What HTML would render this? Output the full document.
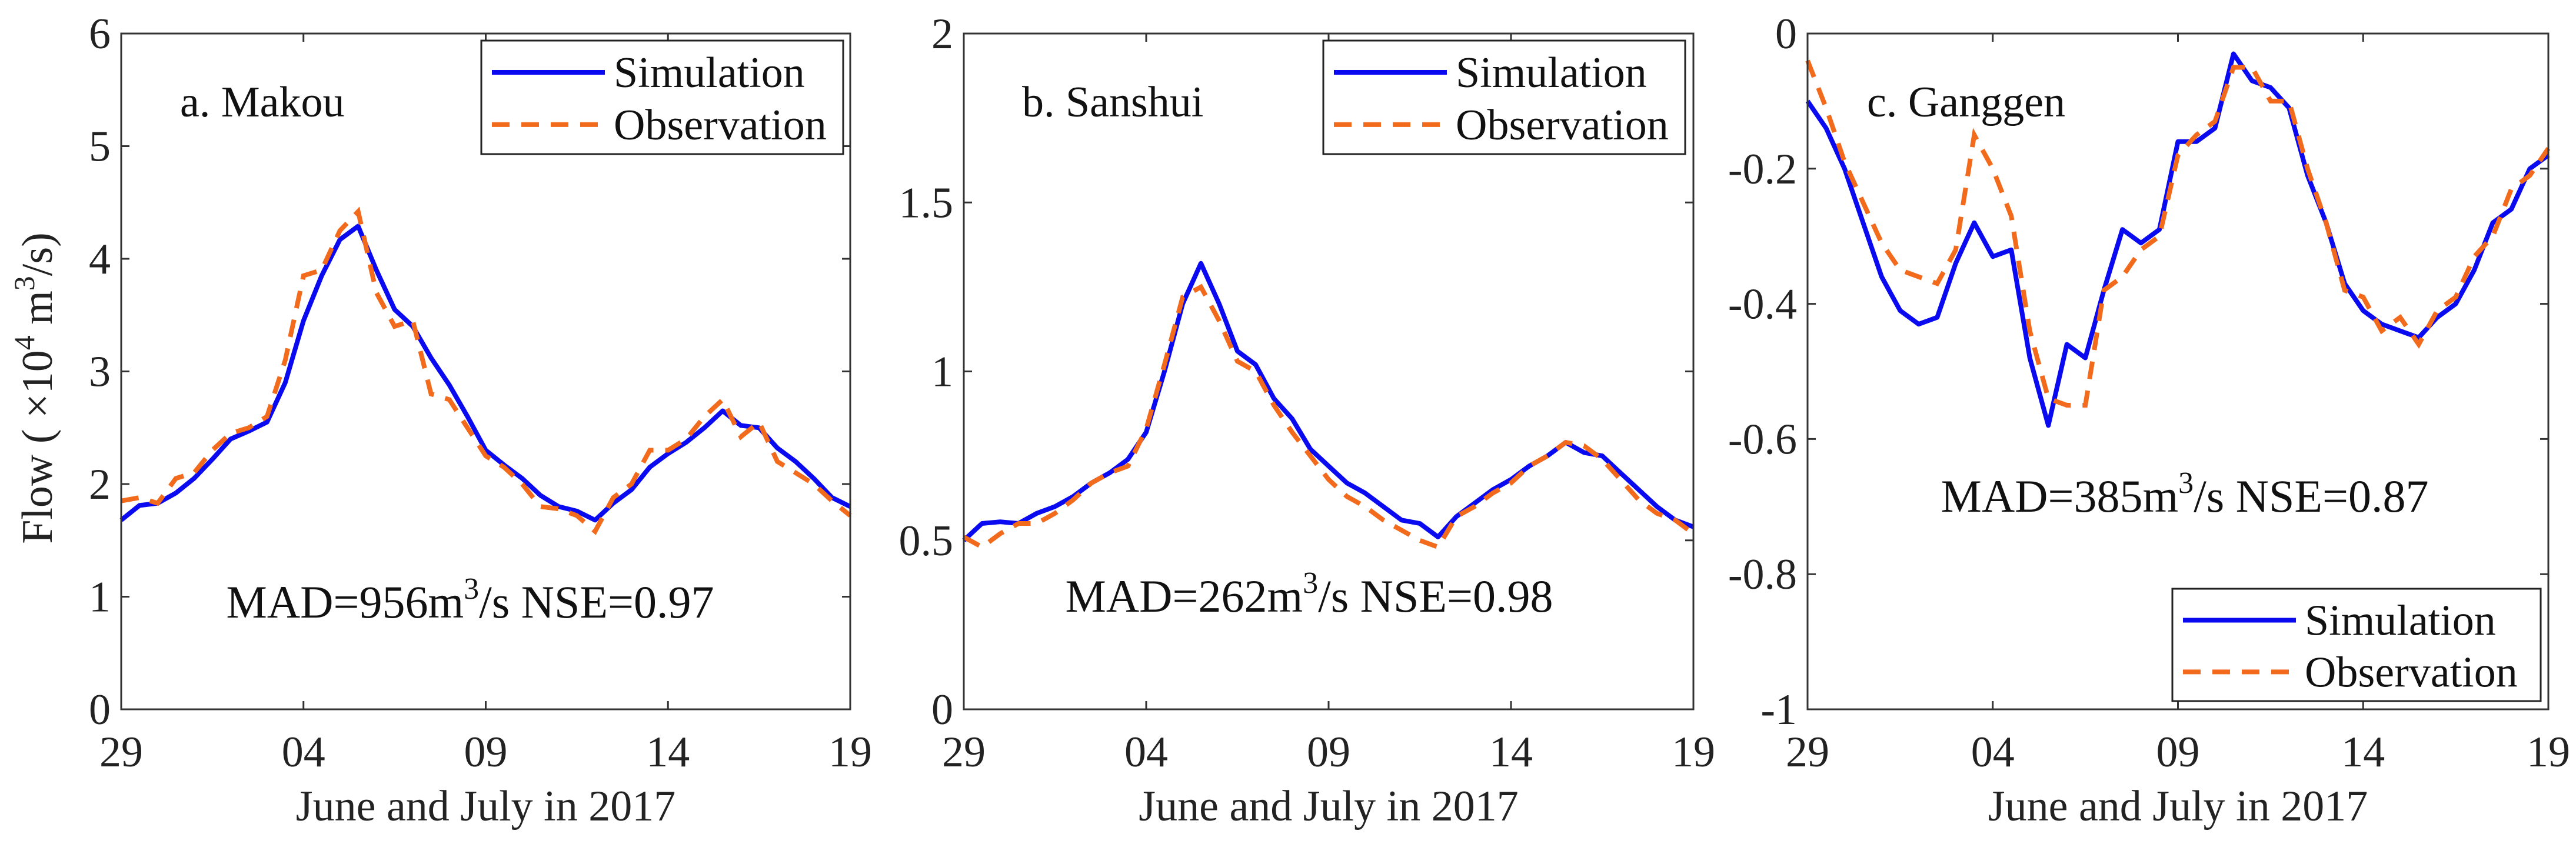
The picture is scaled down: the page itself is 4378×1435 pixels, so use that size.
<!DOCTYPE html>
<html><head><meta charset="utf-8">
<style>
html,body{margin:0;padding:0;background:#fff;}
svg{display:block;font-family:"Liberation Serif",serif;}
</style></head>
<body>
<svg id="fig" width="4378" height="1435" viewBox="0 0 4378 1435" xmlns="http://www.w3.org/2000/svg"></svg>
<script>
const days = [0,0.5,1,1.5,2,2.5,3,3.5,4,4.5,5,5.5,6,6.5,7,7.5,8,8.5,9,9.5,10,10.5,11,11.5,12,12.5,13,13.5,14,14.5,15,15.5,16,16.5,17,17.5,18,18.5,19,19.5,20];
const xTickLabels = ["29","04","09","14","19"];
const xTickValues = [0,5,10,15,20];

const simA = [1.68,1.81,1.83,1.92,2.05,2.22,2.4,2.47,2.55,2.9,3.45,3.85,4.17,4.29,3.9,3.55,3.4,3.12,2.88,2.6,2.3,2.17,2.05,1.9,1.8,1.76,1.68,1.83,1.95,2.15,2.27,2.37,2.5,2.65,2.52,2.5,2.32,2.2,2.05,1.88,1.8];
const obsA = [1.85,1.88,1.83,2.05,2.1,2.3,2.45,2.5,2.6,3.1,3.85,3.9,4.25,4.42,3.7,3.4,3.45,2.8,2.75,2.5,2.25,2.15,2.0,1.8,1.78,1.72,1.58,1.88,2.0,2.3,2.3,2.4,2.6,2.75,2.42,2.55,2.2,2.1,2.0,1.85,1.72];
const simB = [0.5,0.55,0.555,0.55,0.58,0.6,0.63,0.67,0.7,0.74,0.82,1.0,1.2,1.32,1.2,1.06,1.02,0.92,0.86,0.77,0.72,0.67,0.64,0.6,0.56,0.55,0.51,0.57,0.61,0.65,0.68,0.72,0.75,0.79,0.76,0.75,0.7,0.65,0.6,0.56,0.54];
const obsB = [0.51,0.48,0.52,0.55,0.55,0.58,0.62,0.67,0.7,0.72,0.83,1.02,1.22,1.25,1.15,1.03,1.0,0.9,0.82,0.75,0.68,0.63,0.6,0.56,0.53,0.5,0.48,0.57,0.6,0.64,0.67,0.72,0.75,0.79,0.78,0.74,0.68,0.62,0.58,0.56,0.52];
const simC = [-0.1,-0.14,-0.2,-0.28,-0.36,-0.41,-0.43,-0.42,-0.34,-0.28,-0.33,-0.32,-0.48,-0.58,-0.46,-0.48,-0.38,-0.29,-0.31,-0.29,-0.16,-0.16,-0.14,-0.03,-0.07,-0.08,-0.11,-0.21,-0.28,-0.37,-0.41,-0.43,-0.44,-0.45,-0.42,-0.4,-0.35,-0.28,-0.26,-0.2,-0.18];
const obsC = [-0.04,-0.11,-0.19,-0.25,-0.31,-0.35,-0.36,-0.37,-0.32,-0.15,-0.2,-0.27,-0.44,-0.54,-0.55,-0.55,-0.38,-0.36,-0.32,-0.3,-0.18,-0.15,-0.13,-0.05,-0.05,-0.1,-0.1,-0.2,-0.28,-0.38,-0.39,-0.44,-0.42,-0.46,-0.41,-0.39,-0.33,-0.3,-0.23,-0.21,-0.17];

const yTicksA = [0,1,2,3,4,5,6];
const yTicksB = [0,0.5,1,1.5,2];
const yTicksC = [-1,-0.8,-0.6,-0.4,-0.2,0];

const NS="http://www.w3.org/2000/svg";
const svg=document.getElementById('fig');
function mk(tag,attrs,parent){const e=document.createElementNS(NS,tag);for(const k in attrs)e.setAttribute(k,attrs[k]);(parent||svg).appendChild(e);return e;}

const panels=[
 {id:'a',x0:206,x1:1445,ymin:0,ymax:6,ticks:yTicksA,sim:simA,obs:obsA,label:'a. Makou',lx:306,mad:'956',nse:'0.97',mx:799,my:1050,leg:[818,69,1433,262]},
 {id:'b',x0:1638,x1:2878,ymin:0,ymax:2,ticks:yTicksB,sim:simB,obs:obsB,label:'b. Sanshui',lx:1737,mad:'262',nse:'0.98',mx:2225,my:1040,leg:[2249,69,2864,262]},
 {id:'c',x0:3072,x1:4331,ymin:-1,ymax:0,ticks:yTicksC,sim:simC,obs:obsC,label:'c. Ganggen',lx:3173,mad:'385',nse:'0.87',mx:3713,my:870,leg:[3692,1001,4318,1192]}
];
const Y0=1206,Y1=57,FS=74;

panels.forEach(p=>{
  const g=mk('g',{});
  
  
  const xs=d=>p.x0+(d/20)*(p.x1-p.x0);
  const ys=v=>Y0-(v-p.ymin)/(p.ymax-p.ymin)*(Y0-Y1);
  p.ticks.forEach(t=>{
    const y=ys(t);
    const tk=mk('path',{d:`M${p.x0},${y}h14M${p.x1},${y}h-14`,stroke:'#333','stroke-width':3},g);
    
    
    const lb=mk('text',{x:p.x0-18,y:y+25,'text-anchor':'end','font-size':FS,fill:'#222'},g);
    lb.textContent=String(t);
    
    
  });
  xTickValues.forEach((t,i)=>{
    const x=xs(t);
    const tk=mk('path',{d:`M${x},${Y0}v-14M${x},${Y1}v14`,stroke:'#333','stroke-width':3},g);
    
    
    const lb=mk('text',{x:x,y:1303,'text-anchor':'middle','font-size':FS,fill:'#222'},g);
    lb.textContent=xTickLabels[i];
    
    
  });
  const xt=mk('text',{x:(p.x0+p.x1)/2,y:1395,'text-anchor':'middle','font-size':FS,fill:'#222'},g);
  xt.textContent='June and July in 2017';
  
  
  const line=(arr)=>arr.map((v,i)=>(i?'L':'M')+xs(days[i]).toFixed(1)+','+ys(v).toFixed(1)).join('');
  const sim=mk('path',{d:line(p.sim),fill:'none',stroke:'#0a0af0','stroke-width':8,'stroke-linejoin':'round'},g);
  
  
  const obs=mk('path',{d:line(p.obs),fill:'none',stroke:'#f26a1b','stroke-width':8,'stroke-dasharray':'30 20'},g);
  
  
  const bx=mk('rect',{x:p.x0,y:Y1,width:p.x1-p.x0,height:Y0-Y1,fill:'none',stroke:'#333','stroke-width':3},g);
  
  
  const lt=mk('text',{x:p.lx,y:198,'font-size':FS,fill:'#111'},g);
  lt.textContent=p.label;
  
  
  const mt=mk('text',{x:p.mx,y:p.my,'text-anchor':'middle','font-size':78,fill:'#111'},g);
  mt.innerHTML='MAD='+p.mad+'m<tspan dy="-32" font-size="52">3</tspan><tspan dy="32">/s NSE='+p.nse+'</tspan>';
  
  
  const [lx0,ly0,lx1,ly1]=p.leg;
  const lg=mk('g',{},g);
  
  
  mk('rect',{x:lx0,y:ly0,width:lx1-lx0,height:ly1-ly0,fill:'#fff',stroke:'#222','stroke-width':3},lg);
  const r1=ly0+(ly1-ly0)*0.28, r2=ly0+(ly1-ly0)*0.74;
  const e1=mk('g',{},lg);
  
  
  mk('path',{d:`M${lx0+18},${r1}h192`,stroke:'#0a0af0','stroke-width':8},e1);
  const t1=mk('text',{x:lx0+225,y:r1+25,'font-size':FS,fill:'#111'},e1);t1.textContent='Simulation';
  const e2=mk('g',{},lg);
  
  
  mk('path',{d:`M${lx0+18},${r2}h192`,stroke:'#f26a1b','stroke-width':8,'stroke-dasharray':'30 20'},e2);
  const t2=mk('text',{x:lx0+225,y:r2+25,'font-size':FS,fill:'#111'},e2);t2.textContent='Observation';
});
const yt=mk('text',{transform:'translate(88,660) rotate(-90)','text-anchor':'middle','font-size':FS,fill:'#222'});
yt.innerHTML='Flow ( ×10<tspan dy="-30" font-size="50">4</tspan><tspan dy="30"> m</tspan><tspan dy="-30" font-size="50">3</tspan><tspan dy="30">/s)</tspan>';


</script>
</body></html>
